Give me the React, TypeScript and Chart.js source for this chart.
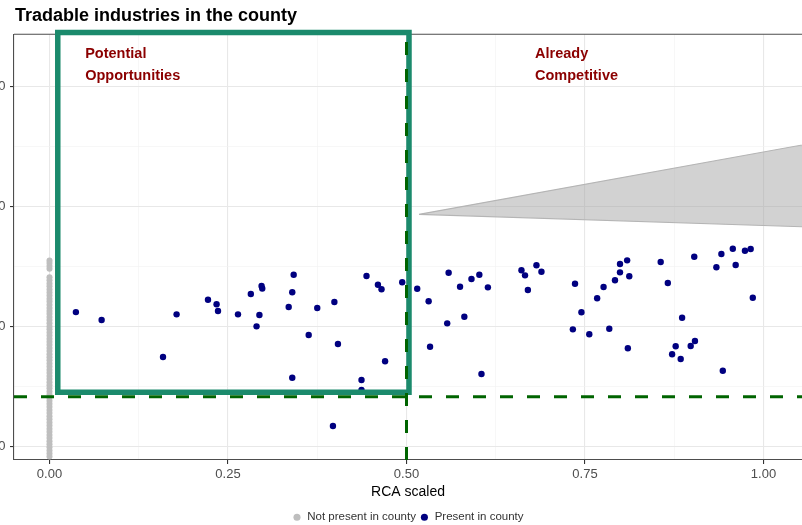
import React, { useEffect, useRef } from 'react';
import { Chart, registerables } from 'chart.js';

Chart.register(...registerables);

const CHART_TITLE = 'Tradable industries in the county';
const X_TITLE = 'RCA scaled';
const SERIES_NAMES = ['Not present in county', 'Present in county'];
const X_TICK_VALUES = [0, 0.25, 0.5, 0.75, 1];
const X_TICK_LABELS = ['0.00', '0.25', '0.50', '0.75', '1.00'];
const Y_TICK_VALUES = [0, 10, 20, 30];
const Y_TICK_LABELS = ['0', '10', '20', '30'];

const X_MIN = -0.0497;
const X_MAX = 1.0539;
const Y_MIN = -1.108;
const Y_MAX = 34.37;

// industries present in the county
const presentRCA = [
  0.037, 0.073, 0.178, 0.159, 0.222, 0.234, 0.236, 0.264, 0.282, 0.297,
  0.298, 0.294, 0.290, 0.342, 0.340, 0.335, 0.363, 0.375, 0.399, 0.404,
  0.340, 0.444, 0.460, 0.465, 0.437, 0.437, 0.470, 0.494, 0.515, 0.397,
  0.531, 0.533, 0.559, 0.557, 0.575, 0.581, 0.591, 0.602, 0.614, 0.605,
  0.661, 0.666, 0.670, 0.682, 0.689, 0.736, 0.745, 0.733, 0.756, 0.767,
  0.776, 0.784, 0.792, 0.799, 0.799, 0.809, 0.812, 0.810, 0.856, 0.866,
  0.886, 0.877, 0.872, 0.884, 0.898, 0.904, 0.903, 0.934, 0.941, 0.957,
  0.961, 0.974, 0.982, 0.985, 0.943,
];
const presentY = [
  11.22, 10.56, 11.03, 7.48, 12.25, 11.87, 11.31, 11.03, 12.73, 13.39,
  13.18, 10.98, 10.03, 14.33, 12.87, 11.64, 9.31, 11.56, 12.06, 8.56,
  5.75, 14.23, 13.5, 13.12, 5.56, 4.73, 7.12, 13.7, 13.17, 1.73,
  12.12, 8.33, 14.5, 10.28, 13.33, 10.83, 13.98, 14.33, 13.28, 6.06,
  14.7, 14.28, 13.06, 15.12, 14.58, 13.58, 11.2, 9.78, 9.37, 12.37,
  13.31, 9.83, 13.87, 14.53, 15.23, 15.53, 14.2, 8.2, 15.39, 13.64,
  10.75, 8.37, 7.7, 7.31, 8.39, 8.81, 15.83, 14.95, 16.06, 16.5,
  15.14, 16.33, 16.48, 12.42, 6.33,
];

// industries not present in the county (RCA = 0)
const NOT_PRESENT_RCA = 0;
const notPresentY = [
  15.52, 15.31, 15.05, 14.84, 14.12, 13.87, 13.6, 13.38, 13.1, 12.85,
  12.6, 12.33, 12.1, 11.84, 11.57, 11.3, 11.08, 10.8, 10.55, 10.29,
  10.02, 9.78, 9.51, 9.26, 9.0, 8.74, 8.49, 8.22, 7.97, 7.7,
  7.45, 7.2, 6.93, 6.68, 6.41, 6.17, 5.9, 5.64, 5.38, 5.13,
  4.87, 4.6, 4.35, 4.09, 3.84, 3.57, 3.32, 3.05, 2.8, 2.53,
  2.28, 2.02, 1.76, 1.5, 1.24, 0.98, 0.73, 0.46, 0.2, -0.05,
  -0.31, -0.56, -0.82,
];

const RCA_CUTOFF = 0.5;
const Y_CUTOFF = 4.17;
const OPP_BOX_X = [0.0116, 0.5035];
const OPP_BOX_Y = [4.54, 34.52];
const WEDGE_X = [0.5175, 1.1, 1.1];
const WEDGE_Y = [19.37, 25.64, 18.24];

const QUADRANT_LABELS = [['Potential', 'Opportunities'], ['Already', 'Competitive']];
const QUADRANT_X = [0.05, 0.68];
const QUADRANT_Y = [32.37, 30.6];

const FONT = '"Liberation Sans", Arial, Helvetica, sans-serif';

const isIn = (v: number, list: number[]) => list.some((t) => Math.abs(t - v) < 1e-6);

const decorPlugin = {
  id: 'decor',
  beforeDatasetsDraw(chart: any) {
    const { ctx, chartArea } = chart;
    ctx.save();
    ctx.strokeStyle = '#4d4d4d';
    ctx.lineWidth = 1.1;
    ctx.beginPath();
    ctx.moveTo(chartArea.left, chartArea.top);
    ctx.lineTo(chartArea.right + 2, chartArea.top);
    ctx.stroke();
    ctx.restore();
  },
  afterDatasetsDraw(chart: any) {
    const { ctx, scales } = chart;
    ctx.save();
    ctx.fillStyle = '#8b0000';
    ctx.font = `bold 14.5px ${FONT}`;
    ctx.textAlign = 'left';
    ctx.textBaseline = 'alphabetic';
    QUADRANT_LABELS.forEach((lines, i) => {
      lines.forEach((line, j) => {
        ctx.fillText(line, scales.x.getPixelForValue(QUADRANT_X[i]), scales.y.getPixelForValue(QUADRANT_Y[j]));
      });
    });
    ctx.restore();
  },
  afterDraw(chart: any) {
    const { ctx } = chart;
    ctx.save();
    ctx.fillStyle = '#000';
    ctx.font = `bold 18px ${FONT}`;
    ctx.textAlign = 'left';
    ctx.textBaseline = 'alphabetic';
    ctx.fillText(CHART_TITLE, 15, 20.5);
    ctx.restore();
  },
};

export default function App() {
  const ref = useRef<HTMLCanvasElement>(null);

  useEffect(() => {
    if (!ref.current) return;
    Chart.defaults.font.family = FONT;

    const chart = new Chart(ref.current, {
      type: 'scatter',
      data: {
        datasets: [
          {
            label: SERIES_NAMES[0],
            data: notPresentY.map((y) => ({ x: NOT_PRESENT_RCA, y })),
            backgroundColor: '#bebebe',
            borderColor: '#bebebe',
            pointRadius: 3,
            pointBorderWidth: 0,
            order: 5,
          },
          {
            label: SERIES_NAMES[1],
            data: presentRCA.map((x, i) => ({ x, y: presentY[i] })),
            backgroundColor: '#000080',
            borderColor: '#000080',
            pointRadius: 3.2,
            pointBorderWidth: 0,
            order: 4,
          },
          {
            label: 'wedge',
            data: WEDGE_X.map((x, i) => ({ x, y: WEDGE_Y[i] })).concat([{ x: WEDGE_X[0], y: WEDGE_Y[0] }]),
            showLine: true,
            fill: 'shape',
            backgroundColor: 'rgba(160,160,160,0.48)',
            borderColor: '#b5b5b5',
            borderWidth: 1.2,
            pointRadius: 0,
            tension: 0,
            order: 6,
          },
          {
            label: 'box',
            data: [
              { x: OPP_BOX_X[0], y: OPP_BOX_Y[1] },
              { x: OPP_BOX_X[1], y: OPP_BOX_Y[1] },
              { x: OPP_BOX_X[1], y: OPP_BOX_Y[0] },
              { x: OPP_BOX_X[0], y: OPP_BOX_Y[0] },
              { x: OPP_BOX_X[0], y: OPP_BOX_Y[1] },
            ],
            showLine: true,
            fill: false,
            borderColor: '#1b8a6c',
            backgroundColor: '#1b8a6c',
            borderWidth: 5.5,
            borderJoinStyle: 'miter',
            borderCapStyle: 'square',
            pointRadius: 0,
            tension: 0,
            clip: false,
            order: 3,
          },
          {
            label: 'ycut',
            data: [{ x: X_MIN, y: Y_CUTOFF }, { x: X_MAX, y: Y_CUTOFF }],
            showLine: true,
            fill: false,
            borderColor: '#006400',
            backgroundColor: '#006400',
            borderWidth: 3,
            borderDash: [13, 14],
            pointRadius: 0,
            order: 1,
          },
          {
            label: 'xcut',
            data: [{ x: RCA_CUTOFF, y: Y_MIN }, { x: RCA_CUTOFF, y: Y_MAX }],
            showLine: true,
            fill: false,
            borderColor: '#006400',
            backgroundColor: '#006400',
            borderWidth: 3,
            borderDash: [13, 14],
            pointRadius: 0,
            order: 0,
          },
        ],
      },
      options: {
        responsive: false,
        animation: false,
        events: [],
        layout: { autoPadding: false, padding: { top: 34.3, left: 0, right: 0, bottom: -8 } },
        scales: {
          x: {
            type: 'linear',
            position: 'bottom',
            min: X_MIN,
            max: X_MAX,
            afterFit: (scale: any) => {
              scale.height = 47.5;
            },
            ticks: {
              stepSize: 0.125,
              includeBounds: false,
              autoSkip: false,
              maxRotation: 0,
              padding: 2.5,
              color: '#4d4d4d',
              font: { size: 13 },
              callback: (v: any) => {
                const idx = X_TICK_VALUES.findIndex((t) => Math.abs(t - v) < 1e-6);
                return idx >= 0 ? X_TICK_LABELS[idx] : '';
              },
            },
            grid: {
              color: (c: any) => (isIn(c.tick.value, X_TICK_VALUES) ? '#e8e8e8' : '#f1f1f1'),
              lineWidth: (c: any) => (isIn(c.tick.value, X_TICK_VALUES) ? 1.1 : 0.6),
              tickColor: (c: any) => (isIn(c.tick.value, X_TICK_VALUES) ? '#333' : 'rgba(0,0,0,0)'),
              tickLength: 4,
              tickWidth: 1.1,
              drawTicks: true,
            },
            border: { display: true, color: '#4d4d4d', width: 1.1 },
            title: {
              display: true,
              text: X_TITLE,
              color: '#000',
              font: { size: 14 },
              padding: { top: 2, bottom: 7.1 },
            },
          },
          y: {
            type: 'linear',
            min: Y_MIN,
            max: Y_MAX,
            afterFit: (scale: any) => {
              scale.width = 14;
            },
            ticks: {
              stepSize: 5,
              includeBounds: false,
              autoSkip: false,
              padding: 4.5,
              color: '#4d4d4d',
              font: { size: 13 },
              callback: (v: any) => {
                const idx = Y_TICK_VALUES.findIndex((t) => Math.abs(t - v) < 1e-6);
                return idx >= 0 ? Y_TICK_LABELS[idx] : '';
              },
            },
            grid: {
              color: (c: any) => (isIn(c.tick.value, Y_TICK_VALUES) ? '#e8e8e8' : '#f1f1f1'),
              lineWidth: (c: any) => (isIn(c.tick.value, Y_TICK_VALUES) ? 1.1 : 0.6),
              tickColor: (c: any) => (isIn(c.tick.value, Y_TICK_VALUES) ? '#333' : 'rgba(0,0,0,0)'),
              tickLength: 4,
              tickWidth: 1.1,
              drawTicks: true,
            },
            border: { display: true, color: '#4d4d4d', width: 1.1 },
          },
        },
        plugins: {
          title: { display: false },
          tooltip: { enabled: false },
          legend: {
            display: true,
            position: 'bottom',
            fullSize: false,
            labels: {
              usePointStyle: true,
              pointStyle: 'circle',
              boxWidth: 9,
              boxHeight: 5,
              padding: 4,
              color: '#333',
              font: { size: 11.5 },
              filter: (item: any) => SERIES_NAMES.includes(item.text),
              sort: (a: any, b: any) => a.datasetIndex - b.datasetIndex,
            },
          },
        },
      },
      plugins: [decorPlugin],
    } as any);

    return () => chart.destroy();
  }, []);

  return (
    <div style={{ position: 'fixed', left: 0, top: 0, width: 802, height: 525, background: '#fff', overflow: 'hidden' }}>
      <canvas ref={ref} width={802} height={525} style={{ display: 'block', width: 802, height: 525 }} />
    </div>
  );
}
